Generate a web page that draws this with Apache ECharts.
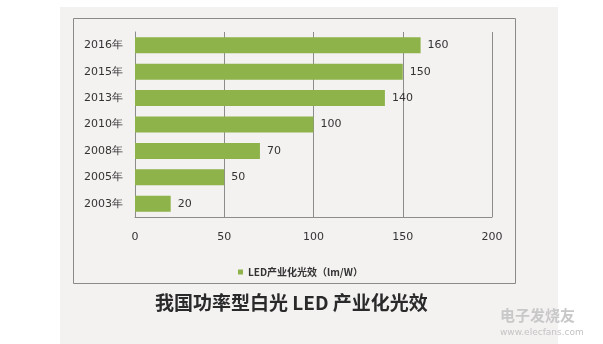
<!DOCTYPE html>
<html><head><meta charset="utf-8">
<script src="https://cdn.jsdelivr.net/npm/echarts@6/dist/echarts.min.js"></script>
<style>html,body{margin:0;padding:0;background:#fff}#c{width:603px;height:344px}</style>
</head><body><div id="c"></div>
<script>
const categories = ['2003年','2005年','2008年','2010年','2013年','2015年','2016年'];
const values = [20, 50, 70, 100, 140, 150, 160];
const seriesName = 'LED产业化光效（lm/W）';
const titleText = '我国功率型白光 LED 产业化光效';
const xTicks = [0, 50, 100, 150, 200];

const chart = echarts.init(document.getElementById('c'), null, {renderer:'canvas'});
chart.setOption({
  backgroundColor: '#ffffff',
  animation: false,
  graphic: [
    {type:'rect', z:-10, shape:{x:60,y:7,width:498,height:337}, style:{fill:'#f4f1f1'}},
    {type:'rect', z:-5, shape:{x:73.5,y:18.5,width:442,height:265}, style:{fill:'none', stroke:'#8a8a8a', lineWidth:1}},
    {type:'text', left:155, top:293, style:{text:titleText, font:'bold 19px "Noto Sans CJK SC"', fill:'#2a2a2a'}},
    {type:'text', left:500, top:308, style:{text:'电子发烧友', font:'bold 15px "Noto Sans CJK SC"', fill:'#c8c8c8'}},
    {type:'text', left:500, top:328, style:{text:'www.elecfans.com', font:'9px "DejaVu Sans"', fill:'#c4c4c4'}}
  ],
  grid: {left:135, right:111, top:32, bottom:127},
  legend: {
    data:[seriesName], left:233, top:262, itemWidth:5, itemHeight:5, itemGap:3,
    icon:'rect',
    textStyle:{fontSize:10, fontWeight:'bold', color:'#333', fontFamily:'"Noto Sans CJK SC"'}
  },
  xAxis: {
    type:'value', min:0, max:200, interval:50,
    axisLine:{show:true, lineStyle:{color:'#8c8c8c'}}, axisTick:{show:false},
    axisLabel:{margin:15, fontSize:11, color:'#333', fontFamily:'"DejaVu Sans"',
      formatter: v => xTicks.includes(v) ? String(v) : ''},
    splitLine:{lineStyle:{color:'#8c8c8c', width:1}}
  },
  yAxis: {
    type:'category', data:categories,
    axisLine:{show:true, lineStyle:{color:'#8c8c8c'}}, axisTick:{show:false},
    axisLabel:{margin:12, fontSize:11, color:'#333', fontFamily:'"DejaVu Sans"'}
  },
  series: [{
    name: seriesName, type:'bar', data: values, barWidth:16,
    itemStyle:{color:'#8db34a'},
    label:{show:true, position:'right', distance:7, fontSize:11, color:'#333', fontFamily:'"DejaVu Sans"'}
  }]
});
</script></body></html>
